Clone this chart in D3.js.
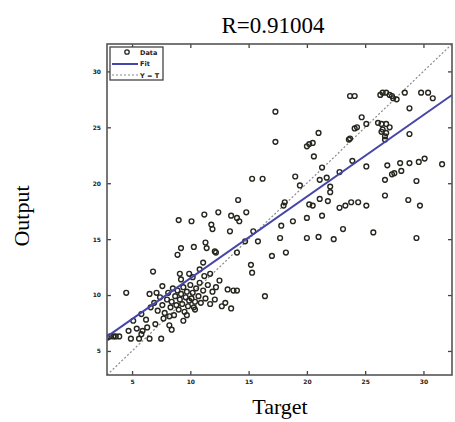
<!DOCTYPE html>
<html>
<head>
<meta charset="utf-8">
<script src="https://cdn.jsdelivr.net/npm/d3@7"></script>
<style>
  html, body { margin: 0; padding: 0; background: #fff; }
  svg { display: block; }
</style>
</head>
<body>
<svg id="chart" width="455" height="422"></svg>
<script>
// ---- data ----
const titleText = "R=0.91004";
const xLabel = "Target";
const yLabel = "Output";
const axisLimits = [2.85, 32.45];
const xTicks = [5, 10, 15, 20, 25, 30];
const yTicks = [5, 10, 15, 20, 25, 30];
const fitSlope = 0.73;
const fitIntercept = 4.2;
const legendLabels = ["Data", "Fit", "Y = T"];

const targetValues = [
  23.7,24.1,26.3,26.5,26.8,27.1,27.3,27.4,27.7,28.4,29.8,30.4,30.8,28.8,17.3,
  24.7,25.1,24.1,24.3,26.1,26.4,26.8,27.1,26.5,26.4,26.8,26.7,26.7,28.8,21.0,
  17.3,20.0,20.2,20.5,23.6,23.7,20.6,21.3,22.8,23.9,25.1,26.9,28.0,28.8,29.6,
  30.1,31.6,27.5,28.1,26.7,27.3,15.3,16.2,19.0,19.4,21.1,21.7,22.0,29.4,14.1,
  18.1,18.0,20.2,20.5,21.1,21.8,22.0,26.7,28.7,29.7,22.8,23.3,23.8,24.4,25.1,
  9.0,10.1,11.2,12.4,13.5,14.0,14.2,14.8,11.8,11.9,13.4,15.4,17.8,18.8,20.0,
  21.3,23.1,25.7,14.7,15.8,17.7,20.0,21.0,22.3,29.4,8.9,9.2,10.3,11.3,11.4,
  12.1,12.2,14.0,17.0,18.2,6.8,9.1,9.2,9.9,10.2,10.8,11.1,11.2,11.7,15.2,
  15.3,4.5,6.5,7.1,7.6,12.2,13.2,13.7,14.0,16.4,12.7,10.4,9.7,8.4,8.2,
  5.1,5.8,6.2,3.4,3.1,2.9,3.6,3.9,4.9,5.6,6.5,7.5,5.8,5.9,
  6.6,6.9,7.2,7.4,7.6,7.8,8.0,8.1,8.3,8.4,8.5,8.6,8.7,8.8,8.9,9.0,9.1,9.2,9.3,9.4,
  9.5,9.6,9.7,9.8,9.9,10.0,10.1,10.2,10.3,10.4,10.5,10.7,10.8,10.9,11.1,11.3,11.5,11.7,11.9,12.1,
  7.0,7.7,8.2,9.4,6.3,5.4,4.7,12.5,13.0,13.5
];
const outputValues = [
  27.8,27.8,27.9,28.1,28.1,27.9,27.8,27.6,27.5,28.1,28.1,28.1,27.6,26.7,26.4,
  25.9,25.3,24.9,25.0,25.4,25.3,25.3,25.0,24.8,24.6,24.5,24.2,23.9,24.4,24.5,
  23.7,23.3,23.5,23.6,23.9,24.0,22.4,21.4,21.0,22.0,21.5,21.6,21.8,21.8,21.9,
  22.2,21.7,20.9,21.1,20.3,20.8,20.4,20.4,20.6,19.8,20.3,20.5,19.7,20.2,18.5,
  18.3,18.0,18.1,18.0,18.6,18.4,19.2,18.9,18.5,18.0,17.8,18.0,18.3,18.3,18.0,
  16.7,16.6,17.2,17.4,17.1,16.9,16.6,17.4,16.3,15.9,15.7,15.7,16.2,16.6,16.9,
  17.1,15.9,15.6,14.8,14.8,15.1,15.1,15.2,15.0,15.1,13.6,14.2,14.3,14.7,14.2,
  13.9,13.8,13.8,13.5,13.8,12.1,11.9,11.4,11.9,11.6,12.3,12.9,11.7,11.9,12.7,
  12.0,10.2,10.1,10.2,10.8,10.7,10.5,10.4,10.4,9.9,9.0,8.7,8.2,6.9,8.1,
  7.7,8.3,7.8,6.3,6.3,6.2,6.3,6.3,6.1,6.1,6.1,6.1,6.5,6.8,
  8.9,9.3,8.6,9.8,9.1,8.4,9.6,10.2,8.9,9.4,10.6,8.2,9.9,9.1,10.4,8.7,9.6,10.1,9.2,10.7,
  8.5,9.8,10.3,9.0,9.5,10.9,9.7,10.2,8.9,9.4,10.6,9.9,11.1,9.3,10.4,9.7,10.9,9.2,10.3,9.6,
  7.4,7.9,7.3,7.7,7.1,7.0,6.8,11.3,9.3,8.8
];

// ---- layout ----
const svg = d3.select("#chart");
const plot = { left: 107, right: 452, top: 44, bottom: 375 };

const x = d3.scaleLinear().domain(axisLimits).range([plot.left, plot.right]);
const y = d3.scaleLinear().domain(axisLimits).range([plot.bottom, plot.top]);

const points = targetValues.map((t, i) => ({ t, o: outputValues[i] }));

svg.append("clipPath").attr("id", "clip")
  .append("rect").attr("x", plot.left).attr("y", plot.top)
  .attr("width", plot.right - plot.left).attr("height", plot.bottom - plot.top);

// Y = T line
svg.append("line")
  .attr("x1", x(axisLimits[0])).attr("y1", y(axisLimits[0]))
  .attr("x2", x(axisLimits[1])).attr("y2", y(axisLimits[1]))
  .attr("stroke", "#8a8a8a").attr("stroke-width", 1.2)
  .attr("stroke-dasharray", "2,2");

// data points
svg.append("g").attr("clip-path", "url(#clip)")
  .selectAll("circle").data(points).enter().append("circle")
  .attr("cx", d => x(d.t)).attr("cy", d => y(d.o)).attr("r", 2.4)
  .attr("fill", "none").attr("stroke", "#26261f").attr("stroke-width", 1.4);

// fit line
svg.append("line")
  .attr("x1", x(axisLimits[0])).attr("y1", y(fitSlope * axisLimits[0] + fitIntercept))
  .attr("x2", x(axisLimits[1])).attr("y2", y(fitSlope * axisLimits[1] + fitIntercept))
  .attr("stroke", "#4646a8").attr("stroke-width", 2);

// axes (ticks inside, all four sides)
const tickLen = 4;
const bottomAxis = d3.axisBottom(x).tickValues(xTicks).tickSize(-tickLen).tickPadding(5);
const leftAxis = d3.axisLeft(y).tickValues(yTicks).tickSize(-tickLen).tickPadding(6);
const topAxis = d3.axisTop(x).tickValues(xTicks).tickSize(-tickLen).tickFormat("");
const rightAxis = d3.axisRight(y).tickValues(yTicks).tickSize(-tickLen).tickFormat("");

function styleAxis(g) {
  g.select(".domain").remove();
  g.selectAll(".tick line").attr("stroke", "#444").attr("stroke-width", 1.3);
  g.selectAll(".tick text").attr("fill", "#222").attr("font-family", "DejaVu Sans")
    .attr("font-size", 6).attr("font-weight", "bold");
}
svg.append("g").attr("transform", `translate(0,${plot.bottom})`).call(bottomAxis).call(styleAxis);
svg.append("g").attr("transform", `translate(${plot.left},0)`).call(leftAxis).call(styleAxis);
svg.append("g").attr("transform", `translate(0,${plot.top})`).call(topAxis).call(styleAxis);
svg.append("g").attr("transform", `translate(${plot.right},0)`).call(rightAxis).call(styleAxis);

// box
svg.append("rect")
  .attr("x", plot.left).attr("y", plot.top)
  .attr("width", plot.right - plot.left).attr("height", plot.bottom - plot.top)
  .attr("fill", "none").attr("stroke", "#555").attr("stroke-width", 1.6);

// legend
const lg = svg.append("g").attr("transform", "translate(110,47)");
lg.append("rect").attr("width", 53).attr("height", 33)
  .attr("fill", "#fff").attr("stroke", "#444").attr("stroke-width", 1.3);
lg.append("circle").attr("cx", 17).attr("cy", 5).attr("r", 2.2)
  .attr("fill", "none").attr("stroke", "#26261f").attr("stroke-width", 1.3);
lg.append("line").attr("x1", 2).attr("x2", 28).attr("y1", 17).attr("y2", 17)
  .attr("stroke", "#4646a8").attr("stroke-width", 2);
lg.append("line").attr("x1", 2).attr("x2", 28).attr("y1", 28).attr("y2", 28)
  .attr("stroke", "#8a8a8a").attr("stroke-width", 1.2).attr("stroke-dasharray", "2,2");
lg.selectAll("text.leg").data(legendLabels).enter().append("text")
  .attr("class", "leg")
  .attr("x", 30).attr("y", (d, i) => 7.5 + i * 11.5)
  .attr("font-family", "DejaVu Sans").attr("font-size", 6.5).attr("font-weight", "bold")
  .attr("fill", "#222").text(d => d);

// title & labels
svg.append("text").attr("x", 273).attr("y", 33).attr("text-anchor", "middle")
  .attr("font-family", "Liberation Serif").attr("font-size", 23).attr("fill", "#000")
  .text(titleText);
svg.append("text").attr("x", 280).attr("y", 414).attr("text-anchor", "middle")
  .attr("font-family", "Liberation Serif").attr("font-size", 22).attr("fill", "#000")
  .text(xLabel);
svg.append("text").attr("transform", "translate(29,216) rotate(-90)").attr("text-anchor", "middle")
  .attr("font-family", "Liberation Serif").attr("font-size", 22).attr("fill", "#000")
  .text(yLabel);
</script>
</body>
</html>
